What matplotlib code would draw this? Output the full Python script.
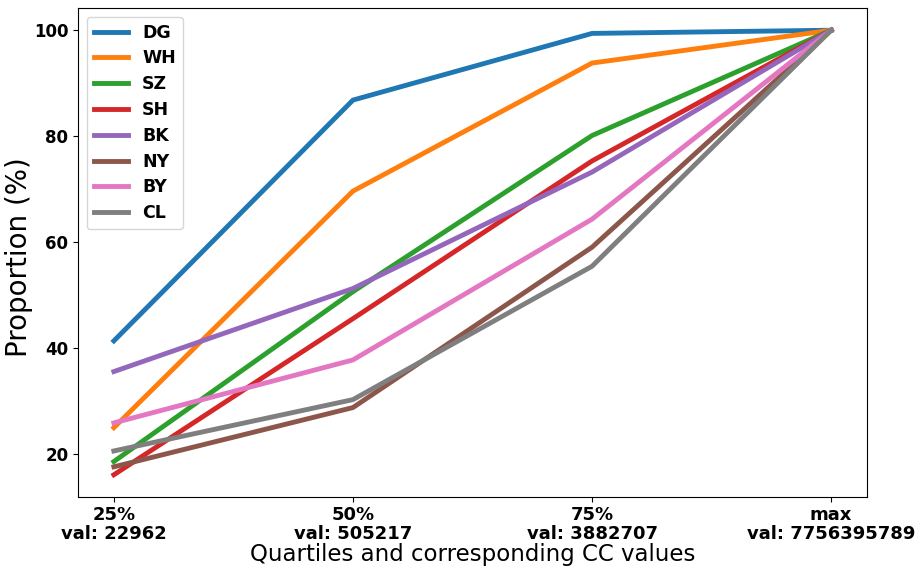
import matplotlib
matplotlib.use("Agg")
import matplotlib.pyplot as plt

tick_labels = ["25%\nval: 22962", "50%\nval: 505217", "75%\nval: 3882707", "max\nval: 7756395789"]
cities = ["DG", "WH", "SZ", "SH", "BK", "NY", "BY", "CL"]
DG = [41.3, 86.8, 99.4, 100]
WH = [24.9, 69.6, 93.8, 100]
SZ = [18.5, 50.6, 80.1, 100]
SH = [16.0, 45.5, 75.3, 100]
BK = [35.5, 51.2, 73.2, 100]
NY = [17.5, 28.7, 59.0, 100]
BY = [25.8, 37.7, 64.3, 100]
CL = [20.5, 30.2, 55.4, 100]
series = [DG, WH, SZ, SH, BK, NY, BY, CL]
yticks = [20, 40, 60, 80, 100]

fig = plt.figure(figsize=(9.22, 5.66), dpi=100)
ax = fig.add_axes([78/922, 1-497/566, (867-78)/922, (497-8)/566])
x = list(range(len(tick_labels)))
for name, vals in zip(cities, series):
    ax.plot(x, vals, linewidth=3.5, label=name)
ax.set_xticks(x)
ax.set_xticklabels(tick_labels, fontsize=13, fontweight="bold", linespacing=1.1)
ax.set_yticks(yticks)
ax.set_yticklabels([str(v) for v in yticks], fontsize=12, fontweight="bold")
ax.tick_params(axis="x", pad=3)
ax.set_xlabel("Quartiles and corresponding CC values", fontsize=16.5, labelpad=0)
ax.set_ylabel("Proportion (%)", fontsize=20)
ax.yaxis.set_label_coords(-0.057, 0.49)
ax.legend(loc="upper left", labelspacing=0.45, prop={"size": 12.5, "weight": "bold"})
fig.savefig("out.png", dpi=100)
